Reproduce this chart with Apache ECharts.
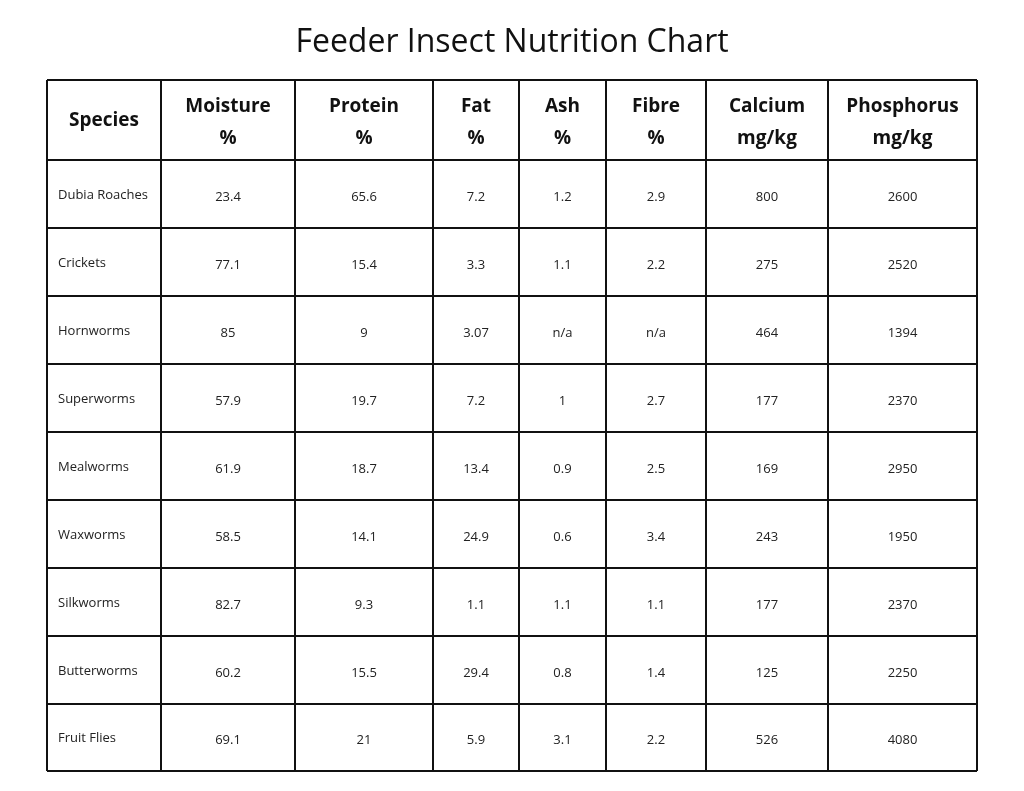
<!DOCTYPE html>
<html><head><meta charset="utf-8">
<script src="https://cdn.jsdelivr.net/npm/echarts@6/dist/echarts.min.js"></script>
<style>html,body{margin:0;background:#fff}#main{width:1024px;height:791px}</style>
</head><body><div id="main"></div>
<script>
var chart = echarts.init(document.getElementById('main'))
var title = 'Feeder Insect Nutrition Chart'
var headers = [['Species'], ['Moisture', '%'], ['Protein', '%'], ['Fat', '%'], ['Ash', '%'], ['Fibre', '%'], ['Calcium', 'mg/kg'], ['Phosphorus', 'mg/kg']]
var species = ['Dubia Roaches', 'Crickets', 'Hornworms', 'Superworms', 'Mealworms', 'Waxworms', 'Silkworms', 'Butterworms', 'Fruit Flies']
var moisture = ['23.4', '77.1', '85', '57.9', '61.9', '58.5', '82.7', '60.2', '69.1']
var protein = ['65.6', '15.4', '9', '19.7', '18.7', '14.1', '9.3', '15.5', '21']
var fat = ['7.2', '3.3', '3.07', '7.2', '13.4', '24.9', '1.1', '29.4', '5.9']
var ash = ['1.2', '1.1', 'n/a', '1', '0.9', '0.6', '1.1', '0.8', '3.1']
var fibre = ['2.9', '2.2', 'n/a', '2.7', '2.5', '3.4', '1.1', '1.4', '2.2']
var calcium = ['800', '275', '464', '177', '169', '243', '177', '125', '526']
var phosphorus = ['2600', '2520', '1394', '2370', '2950', '1950', '2370', '2250', '4080']

var colX = [47, 161, 295, 433, 519, 606, 706, 828, 977]
var rowY = [80, 160, 228, 296, 364, 432, 500, 568, 636, 704, 771]
var cols = [moisture, protein, fat, ash, fibre, calcium, phosphorus]
var font = 'Open Sans, sans-serif'
var els = []
colX.forEach(function (x) {
  els.push({type: 'line', shape: {x1: x, y1: rowY[0], x2: x, y2: rowY[rowY.length - 1]}, style: {stroke: '#111', lineWidth: 2}})
})
rowY.forEach(function (y) {
  els.push({type: 'line', shape: {x1: colX[0], y1: y, x2: colX[colX.length - 1], y2: y}, style: {stroke: '#111', lineWidth: 2}})
})
headers.forEach(function (h, i) {
  var cx = (colX[i] + colX[i + 1]) / 2
  var hy = h.length === 1 ? [121] : [107, 139]
  h.forEach(function (t, k) {
    els.push({type: 'text', x: cx, y: hy[k], style: {text: t, fill: '#111', font: 'bold 19px ' + font, align: 'center', verticalAlign: 'middle'}})
  })
})
species.forEach(function (s, r) {
  var cy = (rowY[r + 1] + rowY[r + 2]) / 2 + 3
  els.push({type: 'text', x: 58, y: cy - 2, style: {text: s, fill: '#222', font: '13px ' + font, align: 'left', verticalAlign: 'middle'}})
  cols.forEach(function (c, i) {
    els.push({type: 'text', x: (colX[i + 1] + colX[i + 2]) / 2, y: cy, style: {text: c[r], fill: '#222', font: '13px ' + font, align: 'center', verticalAlign: 'middle'}})
  })
})
var option = {
  backgroundColor: '#fff',
  title: {text: title, left: 'center', top: 22, textStyle: {fontFamily: font, fontWeight: 'normal', fontSize: 32, color: '#111'}},
  graphic: els
}
chart.setOption(option)
</script></body></html>
